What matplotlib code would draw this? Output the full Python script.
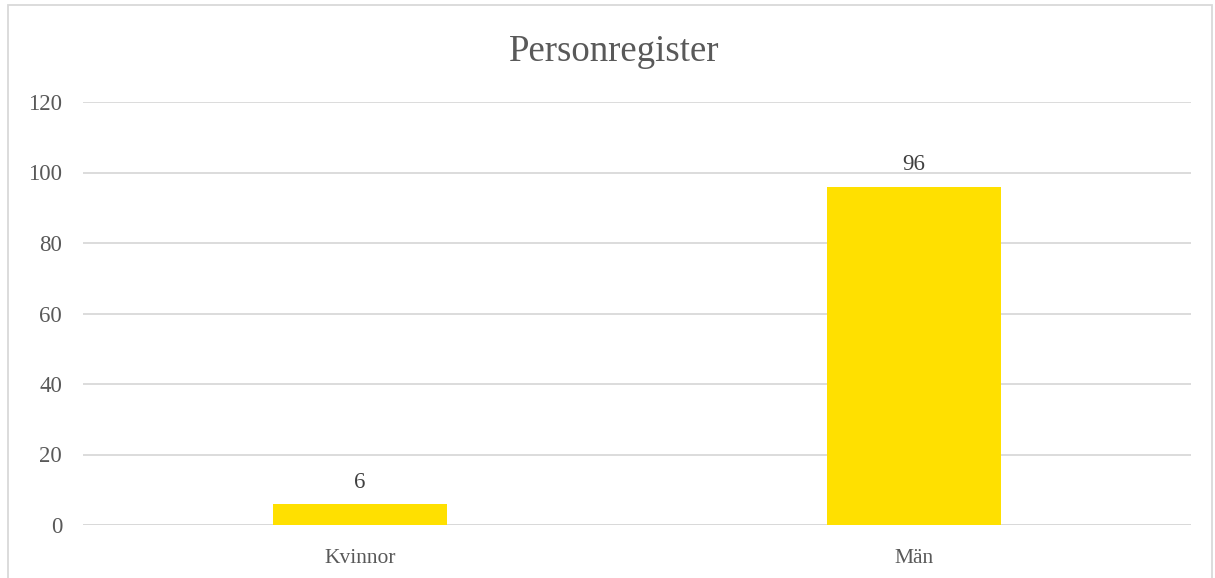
import matplotlib
matplotlib.use("Agg")
from matplotlib import pyplot as plt
from matplotlib.patches import Rectangle

categories = ["Kvinnor", "Män"]
values = [6, 96]
yticks = [0, 20, 40, 60, 80, 100, 120]

plt.rcParams['font.family'] = ['Liberation Serif', 'DejaVu Serif']

W, H = 1215, 578
fig = plt.figure(figsize=(W / 100, H / 100), dpi=100)
# plot area: x 83..1191, y 102..525 px
ax = fig.add_axes([83 / W, (H - 525) / H, 1108 / W, 423 / H])

x = range(len(categories))
bars = ax.bar(x, values, width=0.314, color="#FFE000", zorder=3)
for b, v in zip(bars, values):
    ax.annotate(str(v), (b.get_x() + b.get_width() / 2, v), xytext=(0, 8),
                textcoords="offset points", ha="center", va="bottom",
                fontsize=16.5, color="#404040")

ax.set_xlim(-0.5, 1.5)
ax.set_ylim(0, 120)
ax.set_yticks(yticks)
ax.set_xticks(list(x))
ax.set_xticklabels(categories)
ax.grid(axis="y", color="#d9d9d9", linewidth=1.3, zorder=0)
for s in ax.spines.values():
    s.set_visible(False)
ax.tick_params(length=0, labelcolor="#595959")
ax.tick_params(axis="y", pad=15, labelsize=16.5)
ax.tick_params(axis="x", pad=17, labelsize=15.5)
ax.axhline(0, color="#d9d9d9", linewidth=1.3, zorder=1)

fig.text(614 / W, 1 - 52 / H, "Personregister", fontsize=26.5, color="#595959",
         ha="center", va="center")

# chart border
fig.patches.append(Rectangle((8 / W, -0.01), 1204 / W, (H - 5) / H + 0.01,
                             transform=fig.transFigure, fill=False,
                             edgecolor="#d9d9d9", linewidth=1.3))

plt.savefig("out.png", dpi=100)
